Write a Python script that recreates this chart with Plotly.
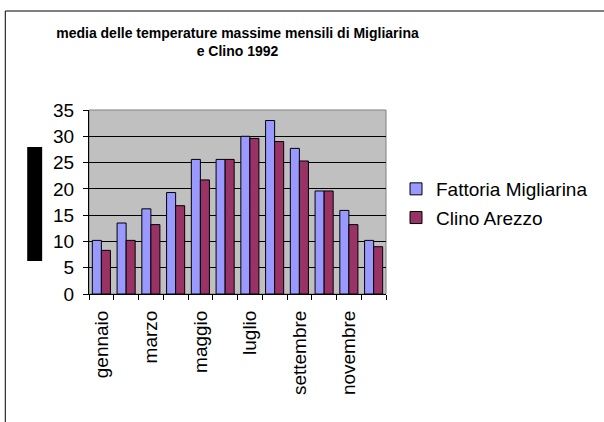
import plotly.graph_objects as go

months = ["gennaio", "febbraio", "marzo", "aprile", "maggio", "giugno",
          "luglio", "agosto", "settembre", "ottobre", "novembre", "dicembre"]
fattoria = [10.2, 13.5, 16.2, 19.3, 25.6, 25.6, 30.0, 33.0, 27.7, 19.6, 15.9, 10.2]
clino = [8.3, 10.2, 13.2, 16.8, 21.7, 25.6, 29.6, 29.0, 25.3, 19.6, 13.2, 9.0]

font = "Arial, Liberation Sans, sans-serif"

fig = go.Figure()
fig.add_trace(go.Bar(x=months, y=fattoria, name="Fattoria Migliarina", legendgroup="a",
                     marker=dict(color="#9999FF", line=dict(color="black", width=1))))
fig.add_trace(go.Bar(x=months, y=clino, name="Clino Arezzo", legendgroup="b",
                     marker=dict(color="#993366", line=dict(color="black", width=1))))

# plot area is 89..387 x 110..294 px
def px(x):
    return (x - 89) / 298

def py(y):
    return (294 - y) / 184

shapes = [
    # outer chart frame (only top and left visible)
    dict(type="line", xref="paper", yref="paper", x0=px(5), x1=px(620), y0=py(11), y1=py(11),
         line=dict(color="black", width=1)),
    dict(type="line", xref="paper", yref="paper", x0=px(5), x1=px(5), y0=py(11), y1=py(440),
         line=dict(color="black", width=1)),
    # plot area border
    dict(type="rect", xref="paper", yref="paper", x0=0, x1=1, y0=0, y1=1,
         line=dict(color="#808080", width=1), layer="below"),
    # blacked-out axis title
    dict(type="rect", xref="paper", yref="paper", x0=px(27), x1=px(42), y0=py(147), y1=py(261),
         fillcolor="black", line=dict(width=0)),
]

fig.update_layout(
    width=604, height=422,
    margin=dict(l=89, r=217, t=110, b=128),
    paper_bgcolor="white", plot_bgcolor="#C0C0C0",
    font=dict(family=font, color="black", size=19),
    title=dict(text="<b>media delle temperature massime mensili di Migliarina<br>e Clino 1992</b>",
               x=0.5, xref="paper", xanchor="center", y=1 - 38 / 422, yanchor="top",
               font=dict(size=14, family=font)),
    barmode="group", bargap=0.27, bargroupgap=0,
    showlegend=True,
    legend=dict(x=px(396), y=py(170), xanchor="left", yanchor="top", font=dict(size=19),
                bgcolor="rgba(0,0,0,0)", tracegroupgap=1, traceorder="grouped"),
    shapes=shapes,
)
fig.update_xaxes(
    tickmode="array", tickvals=months,
    ticktext=[m if i % 2 == 0 else "" for i, m in enumerate(months)],
    tickangle=-90, tickson="boundaries", ticks="outside", ticklen=5, tickcolor="black",
    ticklabelstandoff=8,
    showline=True, linecolor="black", linewidth=1, showgrid=False,
    tickfont=dict(size=19),
)
fig.update_yaxes(
    range=[0, 35], dtick=5, ticks="outside", ticklen=5, tickcolor="black",
    ticklabelstandoff=5,
    showline=True, linecolor="black", linewidth=1,
    showgrid=True, gridcolor="black", gridwidth=1, zeroline=False,
    tickfont=dict(size=19),
)

fig.write_html("out.html", config={"displayModeBar": False},
               post_script="document.body.style.margin='0';")
